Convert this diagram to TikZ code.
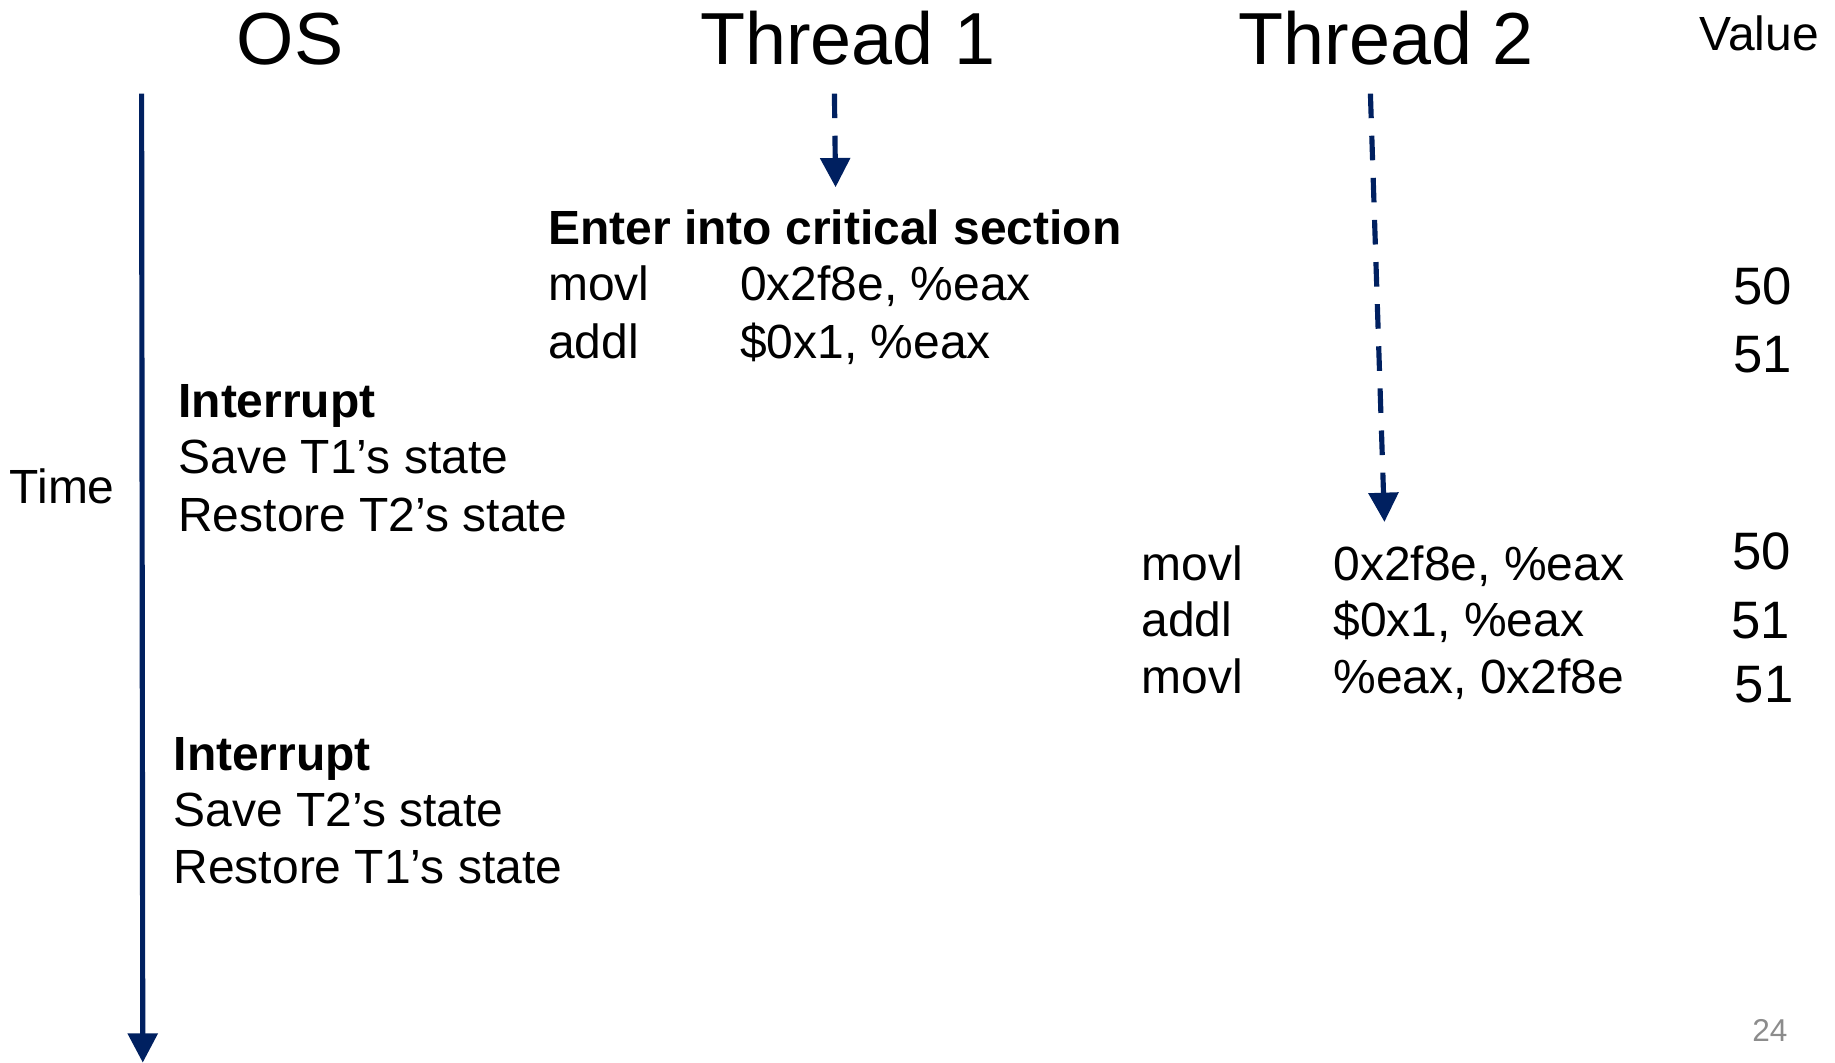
\documentclass[tikz,border=0pt]{standalone}
\usepackage{fontspec}
\setmainfont{Liberation Sans}
\usetikzlibrary{arrows.meta}
\definecolor{navy}{HTML}{002060}
\definecolor{pagegray}{HTML}{8C8C8C}
\begin{document}
\begin{tikzpicture}[x=0.5pt,y=-0.5pt,
  title/.style={font=\fontsize{31.5}{36}\selectfont, inner sep=0pt, anchor=base},
  small/.style={font=\fontsize{20.5}{24}\selectfont, inner sep=0pt, anchor=base west},
  body/.style={font=\fontsize{20.5}{24}\selectfont, inner sep=0pt, anchor=base west},
  bodyb/.style={font=\fontsize{20.5}{24}\selectfont\bfseries, inner sep=0pt, anchor=base west},
  val/.style={font=\fontsize{22.5}{26}\selectfont, inner sep=0pt, anchor=base west},
  timeline/.style={navy, line width=2.2pt, -{Triangle[length=12.5pt,width=12.5pt]}},
  threadline/.style={timeline, dash pattern=on 10.5pt off 7.5pt},
]
\useasboundingbox (0,0) rectangle (1568,908);

% column titles
\node[title] (os) at (248,55) {OS};
\node[title, anchor=base west] (t1) at (598,55) {Thread 1};
\node[title, anchor=base west] (t2) at (1058,55) {Thread 2};
\node[small] (value) at (1452,43) {Value};
\node[small] (time) at (8,430) {Time};

% arrows
\coordinate (osA) at (121,80);
\coordinate (osB) at (122,908);
\coordinate (t1A) at (713,80);
\coordinate (t1B) at (714,160);
\coordinate (t2A) at (1171,80);
\coordinate (t2B) at (1183,446);
\draw[timeline] (osA) -- (osB);
\draw[threadline] (t1A) -- (t1B);
\draw[threadline] (t2A) -- (t2B);

% Thread 1 block
\node[bodyb] (enter) at (468,209) {Enter into critical section};
\node[body] (m1) at (468,257) {movl};
\node[body] (m1o) at (632,257) {0x2f8e, \%eax};
\node[body] (a1) at (468,306) {addl};
\node[body] (a1o) at (632,306) {\$0x1, \%eax};

% Interrupt 1
\node[bodyb] (int1) at (152,357) {Interrupt};
\node[body] (sv1) at (152,405) {Save T1’s state};
\node[body] (rs1) at (152,454) {Restore T2’s state};

% Thread 2 block
\node[body] (m2) at (975,496) {movl};
\node[body] (m2o) at (1139,496) {0x2f8e, \%eax};
\node[body] (a2) at (975,544) {addl};
\node[body] (a2o) at (1139,544) {\$0x1, \%eax};
\node[body] (s2) at (975,593) {movl};
\node[body] (s2o) at (1139,593) {\%eax, 0x2f8e};

% Interrupt 2
\node[bodyb] (int2) at (148,658) {Interrupt};
\node[body] (sv2) at (148,706) {Save T2’s state};
\node[body] (rs2) at (148,755) {Restore T1’s state};

% values
\node[val] (v1) at (1481,260) {50};
\node[val] (v2) at (1481,318) {51};
\node[val] (v3) at (1480,487) {50};
\node[val] (v4) at (1479,546) {51};
\node[val] (v5) at (1482,600) {51};

% page number
\node[font=\fontsize{13.5}{16}\selectfont, text=pagegray, inner sep=0pt, anchor=base west] (page) at (1497,890) {24};
\end{tikzpicture}
\end{document}
